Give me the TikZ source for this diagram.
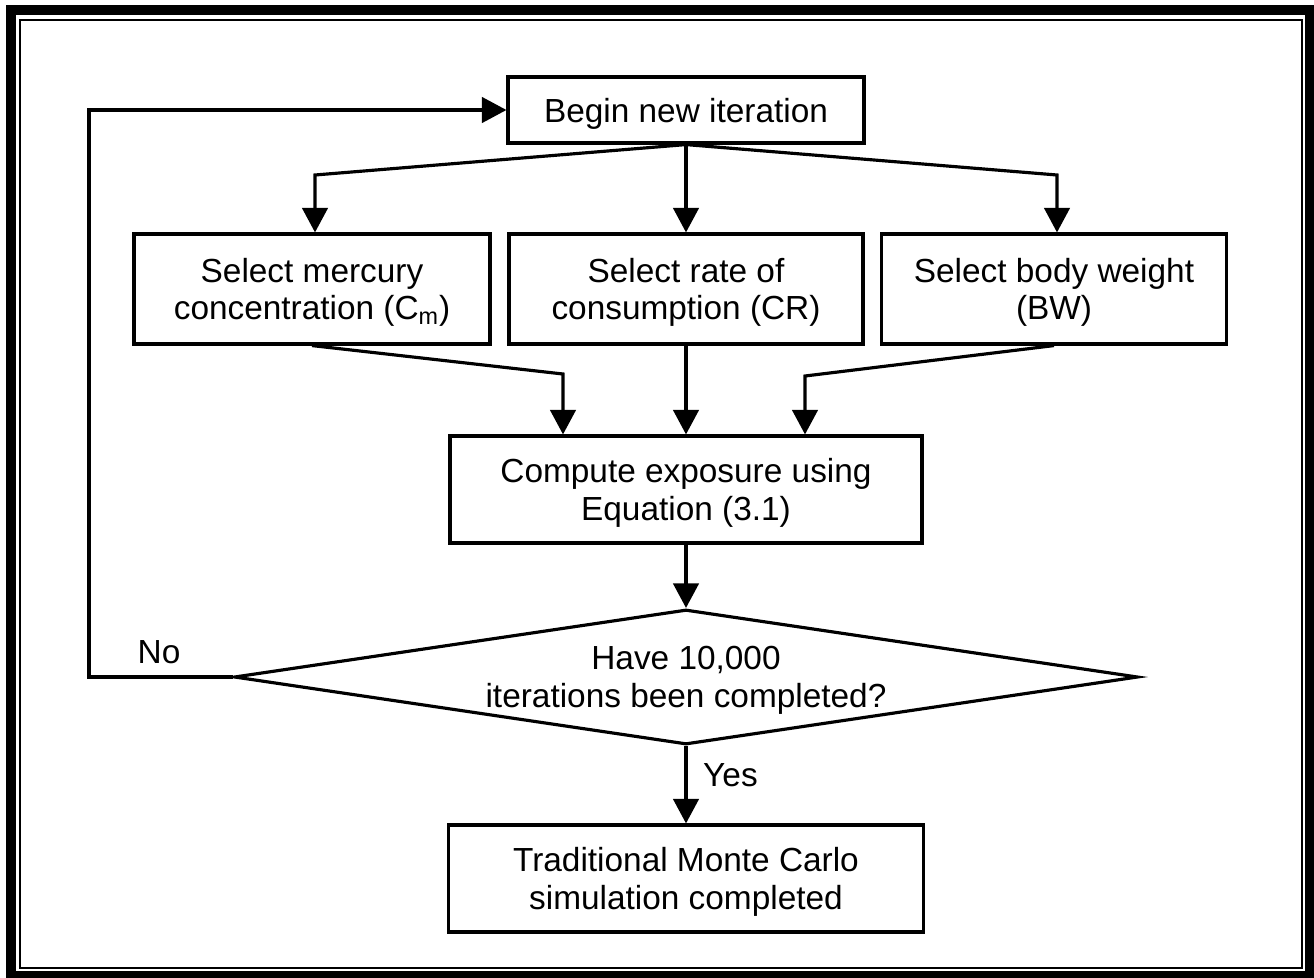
\documentclass[tikz,border=0pt]{standalone}
\usepackage{fontspec}
\setmainfont{Liberation Sans}
\usetikzlibrary{arrows.meta,shapes.geometric}

\tikzset{
  txt/.style={font=\fontsize{19}{21.5}\selectfont},
  box/.style={txt, draw, line width=1.8pt, align=center, inner sep=0pt, text depth=0pt},
  decision/.style={txt, draw, diamond, aspect=6.7, line width=1.8pt, align=center, inner sep=0pt, text depth=0pt},
  flow/.style={line width=1.8pt, -{Triangle[length=14pt,width=14.5pt]}},
}

\begin{document}
\begin{tikzpicture}[x=0.02cm, y=-0.02cm]
    \useasboundingbox (0,0) rectangle (1314,977);

    % Draw the double frame
    \draw[line width=5.7pt] (11,10) rectangle (1310,976);
    \draw[line width=0.8pt] (20,20) rectangle (1302,968);

    % Start of an iteration
    \node[box, minimum width=7.12cm, minimum height=1.32cm] (begin) at (686,110) {Begin new iteration};

    % The three sampled inputs
    \node[box, minimum width=7.12cm, minimum height=2.2cm] (mercury) at (312,289) {Select mercury\\concentration (C\textsubscript{m})};
    \node[box, minimum width=7.08cm, minimum height=2.2cm] (rate) at (686,289) {Select rate of\\consumption (CR)};
    \node[box, minimum width=6.9cm, minimum height=2.2cm] (body) at (1054,289) {Select body weight\\(BW)};

    % Exposure and test
    \node[box, minimum width=9.44cm, minimum height=2.14cm] (compute) at (686,489.5) {Compute exposure using\\Equation (3.1)};
    \node[decision, minimum width=18.08cm, minimum height=2.7cm] (decide) at (686,677) {Have 10,000\\iterations been completed?};

    % End of the run
    \node[box, minimum width=9.5cm, minimum height=2.14cm] (final) at (686,878.5) {Traditional Monte Carlo\\simulation completed};

    % Branch out to the inputs
    \coordinate (bl) at (315,175);
    \coordinate (br) at (1057,175);
    \draw[flow] (begin.south) -- (bl) -- (bl |- mercury.north);
    \draw[flow] (begin.south) -- (rate.north);
    \draw[flow] (begin.south) -- (br) -- (br |- body.north);

    % Gather the inputs
    \coordinate (ml) at (563,374);
    \coordinate (mr) at (805,376);
    \draw[flow] (mercury.south) -- (ml) -- (ml |- compute.north);
    \draw[flow] (rate.south) -- (compute.north);
    \draw[flow] (body.south) -- (mr) -- (mr |- compute.north);

    \draw[flow] (compute.south) -- (decide.north);

    % Loop back
    \coordinate (back) at (89,677);
    \draw[flow] (decide.west) -- (back) |- (begin.west);
    \node[txt] (no) at (159,652) {No};

    % Done
    \draw[flow] (decide.south) -- (final.north);
    \node[txt, anchor=west] (yes) at (697,775) {Yes};

\end{tikzpicture}
\end{document}
